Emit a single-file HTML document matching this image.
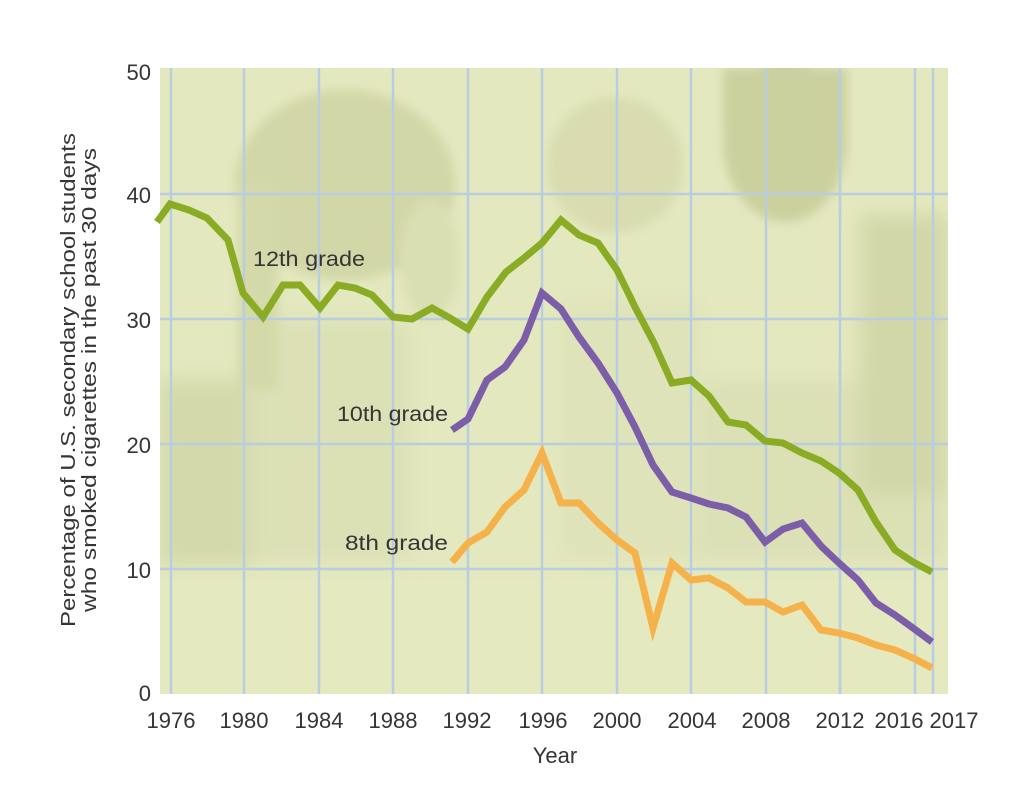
<!DOCTYPE html>
<html><head><meta charset="utf-8"><style>
html,body{margin:0;padding:0;background:#fff;}
svg{display:block;}
text{font-family:"Liberation Sans",sans-serif;fill:#353535;}
</style></head><body>
<svg width="1034" height="807" viewBox="0 0 1034 807" xmlns="http://www.w3.org/2000/svg">
<defs>
<filter id="bl" x="-20%" y="-20%" width="140%" height="140%"><feGaussianBlur stdDeviation="10"/></filter>
<filter id="bl2" x="-20%" y="-20%" width="140%" height="140%"><feGaussianBlur stdDeviation="5"/></filter>
<clipPath id="pc"><rect x="160" y="68" width="788" height="626"/></clipPath>
</defs>
<rect x="0" y="0" width="1034" height="807" fill="#fff"/>
<rect x="160" y="68" width="788" height="626" fill="#e3e8be"/>
<g clip-path="url(#pc)">
  <g filter="url(#bl)">
    <rect x="160" y="380" width="95" height="185" fill="#d4d9aa"/>
    <rect x="250" y="320" width="160" height="240" fill="#dce0b5"/>
    <rect x="700" y="380" width="248" height="180" fill="#dce0b5"/>
    <rect x="860" y="215" width="88" height="280" fill="#d2d7a8"/>
    <rect x="560" y="300" width="140" height="260" fill="#dfe3b9"/>
  </g>
  <g filter="url(#bl2)">
    <ellipse cx="345" cy="185" rx="110" ry="95" fill="#d2d7a7"/>
    <rect x="238" y="180" width="40" height="210" fill="#d4d9a9"/>
    <ellipse cx="615" cy="165" rx="68" ry="68" fill="#d8dcb0"/>
    <ellipse cx="785" cy="140" rx="62" ry="82" fill="#cbd09f"/>
    <rect x="723" y="68" width="124" height="60" fill="#cbd09f"/>
    <ellipse cx="430" cy="260" rx="30" ry="60" fill="#dadfb3"/>
  </g>
  <rect x="160" y="580" width="788" height="114" fill="#e4e9c1" opacity="0.7"/>
</g>
<g stroke="#b8cee0" stroke-width="2.5" fill="none">
  <line x1="171" y1="68" x2="171" y2="694"/>
  <line x1="244" y1="68" x2="244" y2="694"/>
  <line x1="319" y1="68" x2="319" y2="694"/>
  <line x1="393" y1="68" x2="393" y2="694"/>
  <line x1="468" y1="68" x2="468" y2="694"/>
  <line x1="542" y1="68" x2="542" y2="694"/>
  <line x1="617" y1="68" x2="617" y2="694"/>
  <line x1="691" y1="68" x2="691" y2="694"/>
  <line x1="766" y1="68" x2="766" y2="694"/>
  <line x1="840" y1="68" x2="840" y2="694"/>
  <line x1="915" y1="68" x2="915" y2="694"/>
  <line x1="933" y1="68" x2="933" y2="694"/>
  <line x1="160" y1="569" x2="948" y2="569"/>
  <line x1="160" y1="444" x2="948" y2="444"/>
  <line x1="160" y1="319" x2="948" y2="319"/>
  <line x1="160" y1="194" x2="948" y2="194"/>
</g>
<g fill="none" stroke-width="7" stroke-linejoin="miter" stroke-linecap="butt">
<polyline stroke="#8aab24" points="157,222 170,204 189,210 207,218 228,240 243,293 263,317 283,285 300,285 320,308 338,285 355,288 372,295 393,317 412,319 432,308 450,318 468,329 487,297 506,272 524,258 542,243 561,220 579,235 598,243 617,270 635,307 654,343 672,383 691,380 709,396 728,422 746,425 765,441 783,443 802,453 821,461 839,473 858,490 876,522 895,550 913,562 932,572"/>
<polyline stroke="#7c5ea8" points="452,430 468,419 487,380 505,367 524,340 542,293 561,309 579,337 598,363 617,393 635,427 653,465 672,492 691,498 709,504 728,508 746,517 765,542 783,529 802,523 821,546 839,563 858,580 876,603 895,615 913,628 932,642"/>
<polyline stroke="#f6b24a" points="452,562 468,543 487,532 505,507 524,490 542,453 561,503 579,503 598,523 617,540 635,553 653,628 672,563 691,580 709,578 728,588 746,602 765,602 783,612 802,605 821,630 839,633 858,638 876,645 895,650 913,658 932,668"/>
</g>
<g font-size="21">
<text x="253" y="266" textLength="112" lengthAdjust="spacingAndGlyphs">12th grade</text>
<text x="337" y="421" textLength="111" lengthAdjust="spacingAndGlyphs">10th grade</text>
<text x="345" y="550" textLength="103" lengthAdjust="spacingAndGlyphs">8th grade</text>
</g>
<g font-size="22" text-anchor="end">
<text x="151" y="80">50</text>
<text x="151" y="203">40</text>
<text x="151" y="328">30</text>
<text x="151" y="453">20</text>
<text x="151" y="578">10</text>
<text x="151" y="701">0</text>
</g>
<g font-size="22" text-anchor="middle">
<text x="171" y="728">1976</text>
<text x="244" y="728">1980</text>
<text x="319" y="728">1984</text>
<text x="393" y="728">1988</text>
<text x="467" y="728">1992</text>
<text x="543" y="728">1996</text>
<text x="617" y="728">2000</text>
<text x="692" y="728">2004</text>
<text x="766" y="728">2008</text>
<text x="840" y="728">2012</text>
<text x="899" y="728">2016</text>
<text x="954" y="728">2017</text>
<text x="555" y="763">Year</text>
</g>
<g font-size="20">
<text transform="translate(75,627) rotate(-90)" textLength="494" lengthAdjust="spacingAndGlyphs">Percentage of U.S. secondary school students</text>
<text transform="translate(96,612) rotate(-90)" textLength="464" lengthAdjust="spacingAndGlyphs">who smoked cigarettes in the past 30 days</text>
</g>
</svg>
</body></html>
